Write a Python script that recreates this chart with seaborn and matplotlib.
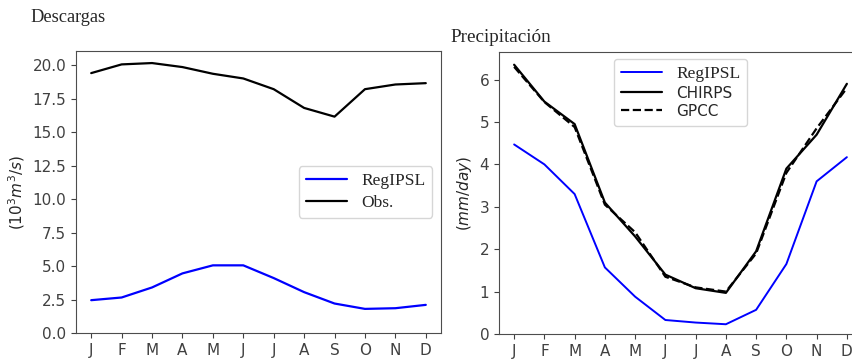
import numpy as np
import seaborn as sns
import matplotlib.pyplot as plt

months = ["J", "F", "M", "A", "M", "J", "J", "A", "S", "O", "N", "D"]

# Descargas (10^3 m3/s)
desc_regipsl = [2.45, 2.65, 3.4, 4.45, 5.05, 5.05, 4.1, 3.05, 2.2, 1.8, 1.85, 2.1]
desc_obs = [19.4, 20.05, 20.15, 19.85, 19.35, 19.0, 18.2, 16.8, 16.15, 18.2, 18.55, 18.65]

# Precipitacion (mm/day)
prec_regipsl = [4.47, 4.0, 3.3, 1.57, 0.88, 0.33, 0.27, 0.23, 0.57, 1.65, 3.6, 4.17]
prec_chirps = [6.35, 5.48, 4.95, 3.1, 2.3, 1.4, 1.08, 0.97, 1.95, 3.9, 4.7, 5.9]
prec_gpcc = [6.3, 5.47, 4.88, 3.05, 2.4, 1.35, 1.1, 1.0, 1.9, 3.8, 4.85, 5.8]

sns.set_style("ticks")
plt.rcParams['font.family'] = ['DejaVu Sans']
serif = ['Liberation Serif', 'DejaVu Serif']

x = np.arange(12)
W, H = 853, 363
fig = plt.figure(figsize=(W / 100, H / 100), dpi=100)
ax1 = fig.add_axes([76 / W, 1 - 333 / H, (441 - 76) / W, (333 - 51) / H])
ax2 = fig.add_axes([499 / W, 1 - 334 / H, (862 - 499) / W, (334 - 52) / H])

# left panel
sns.lineplot(x=x, y=desc_regipsl, ax=ax1, color="blue", lw=1.6, label="RegIPSL")
sns.lineplot(x=x, y=desc_obs, ax=ax1, color="black", lw=1.6, label="Obs.")
ax1.set_ylim(0, 21.05)
ax1.set_yticks(np.arange(0, 20.1, 2.5))
ax1.set_ylabel(r"$(10^3m^3/s)$", fontsize=11)
leg1 = ax1.legend(loc="center right", prop={'family': serif, 'size': 12.5},
                  labelspacing=0.3, handlelength=2.4)

# right panel
sns.lineplot(x=x, y=prec_regipsl, ax=ax2, color="blue", lw=1.4, label="RegIPSL")
sns.lineplot(x=x, y=prec_chirps, ax=ax2, color="black", lw=1.6, label="CHIRPS")
sns.lineplot(x=x, y=prec_gpcc, ax=ax2, color="black", lw=1.6, ls="--", label="GPCC")
ax2.set_ylim(0, 6.65)
ax2.set_yticks(range(0, 7))
ax2.set_ylabel(r"$(mm/day)$", fontsize=11)
leg2 = ax2.legend(loc="upper center", prop={'family': serif, 'size': 12.5},
                  labelspacing=0.2, handlelength=2.4, borderaxespad=0.4)
for t in leg2.get_texts()[1:]:
    t.set_family('DejaVu Sans')
    t.set_size(11)

for ax in (ax1, ax2):
    ax.set_xlim(-0.5, 11.5)
    ax.set_xticks(x)
    ax.set_xticklabels(months)
    ax.tick_params(labelsize=11, colors=".25")
    for s in ax.spines.values():
        s.set_visible(True)
        s.set_color(".3")

fig.text(30 / W, 1 - 18 / H, "Descargas", family=serif, fontsize=13.2, va="center", ha="left")
fig.text(450 / W, 1 - 37 / H, "Precipitación", family=serif, fontsize=13.8, va="center", ha="left")

fig.savefig("out.png", dpi=100)
